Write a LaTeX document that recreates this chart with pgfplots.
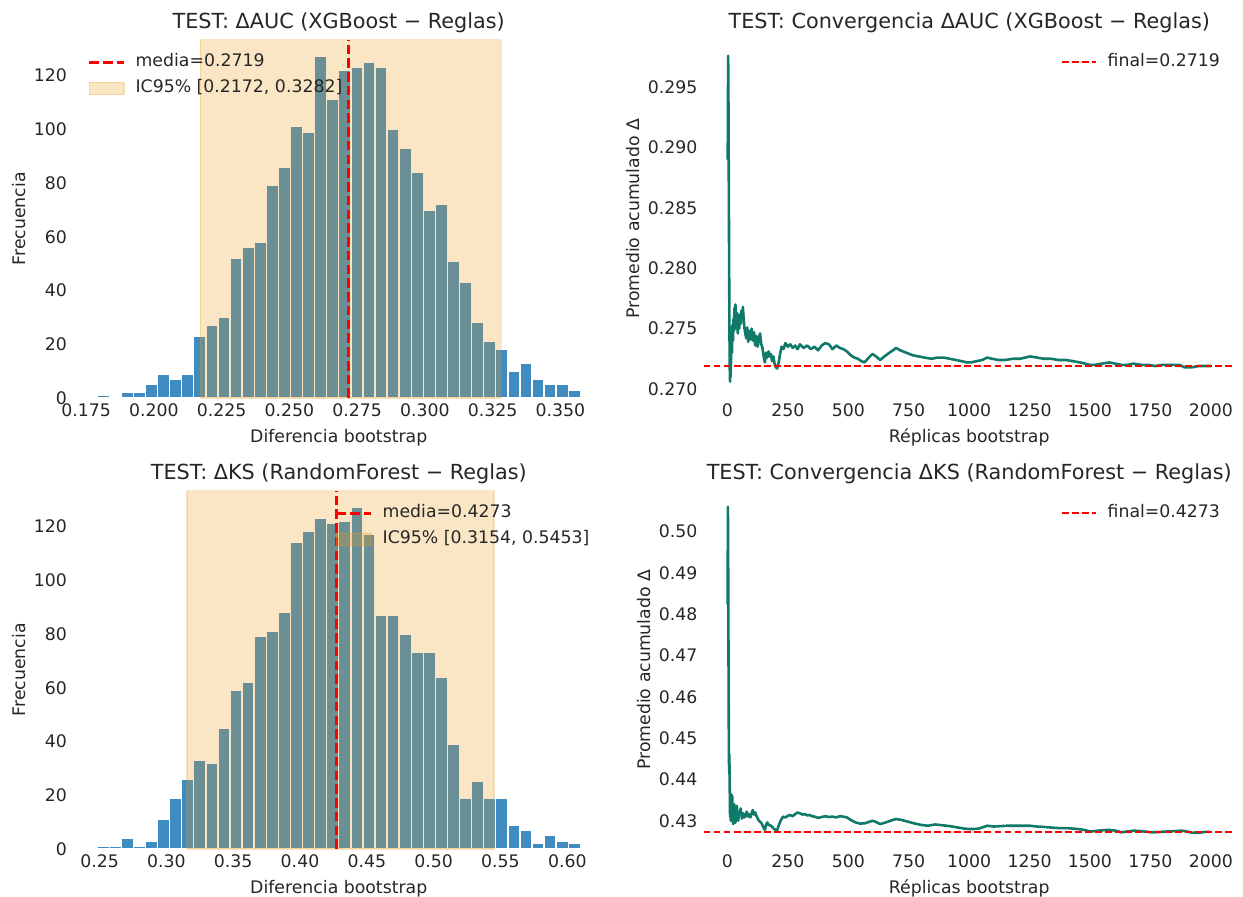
\documentclass[border=0pt]{standalone}
\usepackage{pgfplots}
\pgfplotsset{compat=1.18}
\usepackage{fontspec}
\setmainfont{DejaVu Sans}

\definecolor{txt}{RGB}{38,38,38}
\definecolor{barblue}{RGB}{31,119,180}
\definecolor{spanorange}{RGB}{235,155,25}
\definecolor{meanred}{RGB}{255,0,0}
\definecolor{convteal}{RGB}{16,122,106}

\pgfplotsset{
  panel/.style={
    scale only axis,
    width=307.2pt, height=207.2pt,
    axis line style={draw=none},
    major tick length=0pt,
    tick style={draw=none},
    tick label style={font=\fontsize{10}{12}\selectfont, text=txt},
    label style={font=\fontsize{10}{12}\selectfont, text=txt},
    ylabel style={xshift=0pt, yshift=-2pt},
    title style={font=\fontsize{12}{14}\selectfont, text=txt, yshift=-5.6pt},
    legend cell align=left,
    legend style={draw=none, fill=none, inner sep=0pt, outer sep=0pt,
      font=\fontsize{10}{12}\selectfont, text=txt,
      row sep=5pt, column sep=6pt,
      nodes={inner sep=0pt, text height=7.5pt, text depth=2.5pt}},
  },
  lineleg/.style={legend image code/.code={\draw[##1, draw=meanred] (0pt,0pt) -- (20pt,0pt);}},
  patchleg/.style={legend image code/.code={\draw[##1] (0pt,-3.5pt) rectangle (20pt,3.5pt);}},
  hist/.style={ybar interval, fill=barblue, fill opacity=0.85, draw=white, line width=0.8pt, forget plot},
  ci/.style={fill=spanorange, fill opacity=0.25, draw=spanorange, draw opacity=0.25, line width=0.8pt, patchleg},
  meanline/.style={meanred, line width=1.5pt, dash pattern=on 5.55pt off 2.4pt, lineleg},
  finalline/.style={meanred, line width=1.2pt, dash pattern=on 4pt off 1.8pt, lineleg},
  conv/.style={convteal, line width=1.5pt, line join=round, forget plot},
}

% bootstrap histogram of Delta AUC (40 bins: left edge, count)
\pgfplotstableread{
x y
0.17906 1
0.18352 0
0.18798 2
0.19243 2
0.19689 5
0.20135 9
0.20581 7
0.21027 9
0.21473 23
0.21918 27
0.22364 30
0.22810 52
0.23256 56
0.23702 58
0.24148 79
0.24593 86
0.25039 101
0.25485 99
0.25931 127
0.26377 111
0.26823 122
0.27268 123
0.27714 125
0.28160 123
0.28606 100
0.29052 93
0.29498 84
0.29943 70
0.30389 72
0.30835 51
0.31281 43
0.31727 28
0.32173 21
0.32618 18
0.33064 10
0.33510 13
0.33956 7
0.34402 5
0.34848 5
0.35293 3
0.35739 3
}\histauc

% bootstrap histogram of Delta KS
\pgfplotstableread{
x y
0.24820 1
0.25724 1
0.26628 4
0.27532 1
0.28436 3
0.29340 11
0.30244 19
0.31148 26
0.32051 33
0.32955 32
0.33859 45
0.34763 59
0.35667 62
0.36571 79
0.37475 81
0.38379 88
0.39283 114
0.40187 118
0.41091 123
0.41995 121
0.42899 122
0.43803 127
0.44706 117
0.45610 87
0.46514 87
0.47418 80
0.48322 73
0.49226 73
0.50130 64
0.51034 39
0.51938 19
0.52842 25
0.53746 19
0.54650 19
0.55554 9
0.56458 7
0.57361 2
0.58265 5
0.59169 3
0.60073 2
0.60977 2
}\histks

% running mean of Delta AUC over bootstrap replicates
\pgfplotstableread{
n m
1 0.2890
2 0.2915
3 0.2976
4 0.2950
5 0.2905
6 0.2858
7 0.2808
8 0.2765
9 0.2733
10 0.2712
11 0.2706
12 0.2719
13 0.2710
15 0.2724
17 0.2746
19 0.2730
21 0.2753
23 0.2740
25 0.2758
27 0.2748
29 0.2767
31 0.2753
33 0.2770
35 0.2761
37 0.2750
40 0.2763
43 0.2746
46 0.2758
49 0.2750
52 0.2762
55 0.2754
58 0.2765
61 0.2757
64 0.2768
67 0.2759
70 0.2751
74 0.2746
78 0.2742
82 0.2751
86 0.2739
90 0.2748
95 0.2741
100 0.2750
105 0.2740
110 0.2747
115 0.2736
120 0.2744
125 0.2735
130 0.2742
135 0.2746
140 0.2737
145 0.2734
150 0.2727
155 0.2722
160 0.2730
165 0.2726
170 0.2731
175 0.2727
180 0.2729
185 0.2723
190 0.2727
195 0.2721
200 0.2718
206 0.2717
212 0.2722
218 0.2729
224 0.2735
232 0.2733
240 0.2738
250 0.2735
260 0.2737
270 0.2734
280 0.2736
290 0.2733
300 0.2737
315 0.2734
330 0.2736
345 0.2733
360 0.2735
375 0.2732
390 0.2736
405 0.2738
420 0.2737
435 0.2733
450 0.2736
465 0.2734
480 0.2733
495 0.2731
510 0.2728
525 0.2726
540 0.2725
555 0.2723
567 0.2722
585 0.2726
600 0.2729
615 0.2727
632 0.2724
650 0.2727
670 0.2730
685 0.2732
698 0.2734
715 0.2732
740 0.2730
765 0.2728
790 0.2727
815 0.2726
845 0.2725
870 0.2726
895 0.2726
920 0.2725
945 0.2724
970 0.2723
990 0.2722
1008 0.2722
1030 0.2723
1055 0.2724
1074 0.2726
1095 0.2725
1120 0.2724
1150 0.2724
1180 0.2725
1210 0.2725
1253 0.2727
1280 0.2726
1310 0.2725
1340 0.2725
1370 0.2724
1400 0.2724
1430 0.2723
1458 0.2722
1480 0.2721
1498 0.2720
1520 0.2720
1550 0.2721
1580 0.2722
1605 0.2721
1629 0.2720
1655 0.2720
1680 0.2721
1710 0.2720
1740 0.2720
1770 0.2719
1800 0.2720
1841 0.2720
1870 0.2720
1890 0.2718
1910 0.2718
1923 0.2718
1950 0.2719
1975 0.2719
2000 0.2719
}\convauc

% running mean of Delta KS over bootstrap replicates
\pgfplotstableread{
n m
1 0.4823
2 0.5060
3 0.4950
4 0.4780
5 0.4620
6 0.4480
7 0.4420
8 0.4461
9 0.4400
10 0.4362
11 0.4310
12 0.4335
14 0.4300
16 0.4364
18 0.4330
20 0.4360
22 0.4300
24 0.4292
26 0.4320
28 0.4340
30 0.4310
33 0.4295
36 0.4325
39 0.4336
42 0.4310
45 0.4300
48 0.4322
51 0.4315
55 0.4330
60 0.4305
65 0.4318
70 0.4308
75 0.4312
80 0.4322
85 0.4310
90 0.4316
95 0.4308
100 0.4318
105 0.4326
110 0.4315
115 0.4320
120 0.4312
130 0.4300
140 0.4295
150 0.4283
155 0.4278
160 0.4290
165 0.4296
170 0.4290
180 0.4288
190 0.4282
200 0.4277
205 0.4276
210 0.4285
220 0.4300
230 0.4310
240 0.4308
250 0.4312
260 0.4314
270 0.4311
280 0.4316
290 0.4320
300 0.4318
310 0.4315
320 0.4316
330 0.4313
340 0.4314
350 0.4311
360 0.4310
375 0.4307
390 0.4309
405 0.4311
420 0.4309
435 0.4310
450 0.4308
465 0.4311
480 0.4310
495 0.4308
510 0.4302
530 0.4296
550 0.4293
570 0.4294
590 0.4298
600 0.4300
615 0.4297
632 0.4292
650 0.4295
670 0.4299
690 0.4303
700 0.4304
720 0.4302
745 0.4298
770 0.4294
800 0.4290
830 0.4288
860 0.4291
890 0.4289
920 0.4287
950 0.4284
980 0.4281
1000 0.4280
1020 0.4280
1040 0.4281
1060 0.4285
1075 0.4288
1100 0.4286
1130 0.4287
1160 0.4288
1190 0.4288
1220 0.4288
1250 0.4288
1280 0.4286
1310 0.4285
1350 0.4283
1380 0.4282
1410 0.4282
1450 0.4280
1475 0.4278
1500 0.4274
1520 0.4275
1550 0.4277
1580 0.4278
1605 0.4276
1630 0.4272
1655 0.4274
1680 0.4276
1710 0.4275
1740 0.4273
1760 0.4272
1790 0.4273
1820 0.4274
1850 0.4275
1880 0.4276
1900 0.4274
1925 0.4271
1950 0.4271
1975 0.4273
2000 0.4273
}\convks

\begin{document}
\begin{tikzpicture}
\path[use as bounding box] (0pt,0pt) rectangle (718.45pt,517.89pt);

% --- top left: histogram Delta AUC
\begin{axis}[panel, at={(42.19pt,287.84pt)}, anchor=south west,
  xmin=0.17014, xmax=0.36631, ymin=0, ymax=133.35,
  xtick={0.175,0.2,0.225,0.25,0.275,0.3,0.325,0.35},
  xticklabels={0.175,0.200,0.225,0.250,0.275,0.300,0.325,0.350},
  ytick={0,20,40,60,80,100,120},
  yticklabels={0,20,40,60,80,100,120},
  title={TEST: ΔAUC (XGBoost − Reglas)},
  xlabel={Diferencia bootstrap}, ylabel={Frecuencia},
  legend style={at={(0,1)}, anchor=north west, xshift=8.7pt, yshift=-8.3pt},
  reverse legend]
\addplot[hist] table[x=x, y=y] {\histauc};
\addplot[ci] coordinates {(0.2172,133.35) (0.3282,133.35)} \closedcycle;
\addlegendentry{IC95\% [0.2172, 0.3282]}
\addplot[meanline] coordinates {(0.2719,0) (0.2719,133.35)};
\addlegendentry{media=0.2719}
\end{axis}

% --- top right: running mean Delta AUC
\begin{axis}[panel, at={(406.62pt,287.84pt)}, anchor=south west,
  xmin=-98.95, xmax=2099.95, ymin=0.26925, ymax=0.29895,
  xtick={0,250,500,750,1000,1250,1500,1750,2000},
  xticklabels={0,250,500,750,1000,1250,1500,1750,2000},
  ytick={0.270,0.275,0.280,0.285,0.290,0.295},
  yticklabels={0.270,0.275,0.280,0.285,0.290,0.295},
  title={TEST: Convergencia ΔAUC (XGBoost − Reglas)},
  xlabel={Réplicas bootstrap}, ylabel={Promedio acumulado Δ},
  legend style={at={(1,1)}, anchor=north east, xshift=-8.7pt, yshift=-8.1pt}]
\addplot[conv] table[x=n, y=m] {\convauc};
\addplot[finalline] coordinates {(-98.95,0.2719) (2099.95,0.2719)};
\addlegendentry{final=0.2719}
\end{axis}

% --- bottom left: histogram Delta KS
\begin{axis}[panel, at={(42.19pt,27.17pt)}, anchor=south west,
  xmin=0.23012, xmax=0.62785, ymin=0, ymax=133.35,
  xtick={0.25,0.3,0.35,0.4,0.45,0.5,0.55,0.6},
  xticklabels={0.25,0.30,0.35,0.40,0.45,0.50,0.55,0.60},
  ytick={0,20,40,60,80,100,120},
  yticklabels={0,20,40,60,80,100,120},
  title={TEST: ΔKS (RandomForest − Reglas)},
  xlabel={Diferencia bootstrap}, ylabel={Frecuencia},
  legend style={at={(1,1)}, anchor=north east, xshift=-8.7pt, yshift=-8.3pt},
  reverse legend]
\addplot[hist] table[x=x, y=y] {\histks};
\addplot[ci] coordinates {(0.3154,133.35) (0.5453,133.35)} \closedcycle;
\addlegendentry{IC95\% [0.3154, 0.5453]}
\addplot[meanline] coordinates {(0.4273,0) (0.4273,133.35)};
\addlegendentry{media=0.4273}
\end{axis}

% --- bottom right: running mean Delta KS
\begin{axis}[panel, at={(406.62pt,27.17pt)}, anchor=south west,
  xmin=-98.95, xmax=2099.95, ymin=0.42316, ymax=0.50995,
  xtick={0,250,500,750,1000,1250,1500,1750,2000},
  xticklabels={0,250,500,750,1000,1250,1500,1750,2000},
  ytick={0.43,0.44,0.45,0.46,0.47,0.48,0.49,0.50},
  yticklabels={0.43,0.44,0.45,0.46,0.47,0.48,0.49,0.50},
  title={TEST: Convergencia ΔKS (RandomForest − Reglas)},
  xlabel={Réplicas bootstrap}, ylabel={Promedio acumulado Δ},
  legend style={at={(1,1)}, anchor=north east, xshift=-8.7pt, yshift=-8.1pt}]
\addplot[conv] table[x=n, y=m] {\convks};
\addplot[finalline] coordinates {(-98.95,0.4273) (2099.95,0.4273)};
\addlegendentry{final=0.4273}
\end{axis}
\end{tikzpicture}
\end{document}
